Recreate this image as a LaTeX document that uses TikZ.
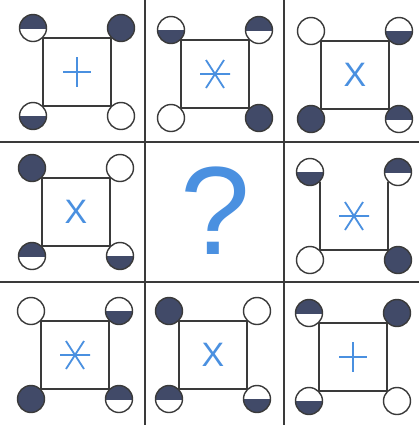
\documentclass[tikz,border=0pt]{standalone}
\usepackage{fontspec}
\setmainfont{Liberation Sans}
\definecolor{dk}{HTML}{414A68}
\definecolor{ln}{HTML}{3A3A3A}
\definecolor{bl}{HTML}{4A90E0}
\tikzset{
  gridline/.style={draw=ln,line width=1.8bp},
  sq/.style={draw=ln,line width=1.2bp},
  ring/.style={draw=ln,line width=1.4bp},
  sy/.style={draw=bl,line width=1.8bp},
  xsymb/.style={text=bl,inner sep=0pt,font=\fontsize{34}{34}\selectfont},
}
\newcommand\R{13.5}
% x, y, type (e empty, f full, t top dark, b bottom dark)
\newcommand\puzdot[3]{%
  \ifx#3f\fill[dk] (#1,#2) circle (\R);\fi
  \ifx#3t\begin{scope}\clip (#1-15,#2-15) rectangle (#1+15,#2);\fill[dk] (#1,#2) circle (\R);\end{scope}\fi
  \ifx#3b\begin{scope}\clip (#1-15,#2) rectangle (#1+15,#2+15);\fill[dk] (#1,#2) circle (\R);\end{scope}\fi
  \draw[ring] (#1,#2) circle (\R);}
\newcommand\plussym[2]{\draw[sy] (#1-14,#2) -- (#1+14,#2) (#1,#2-15) -- (#1,#2+15);}
\newcommand\astsym[2]{\draw[sy] (#1-15,#2) -- (#1+15,#2) (#1-9,#2-14) -- (#1+9,#2+14) (#1+9,#2-14) -- (#1-9,#2+14);}
\newcommand\xsym[2]{\node[xsymb] at (#1,#2) {X};}
% cx cy TL TR BL BR symbol top-edge(1/0)
\newcommand\cell[8]{%
  \ifnum#8=1
    \draw[sq] (#1-34,#2-34) rectangle (#1+34,#2+34);
  \else
    \draw[sq] (#1-34,#2-34) -- (#1-34,#2+34) -- (#1+34,#2+34) -- (#1+34,#2-34);
  \fi
  \puzdot{#1-44}{#2-44}{#3}%
  \puzdot{#1+44}{#2-44}{#4}%
  \puzdot{#1-44}{#2+44}{#5}%
  \puzdot{#1+44}{#2+44}{#6}%
  #7{#1}{#2}}
\begin{document}
\begin{tikzpicture}[x=1bp,y=-1bp]
\useasboundingbox (0,0) rectangle (419,425);
\fill[white] (0,0) rectangle (419,425);
\draw[gridline] (145,0) -- (145,425);
\draw[gridline] (284,0) -- (284,425);
\draw[gridline] (0,142) -- (419,142);
\draw[gridline] (0,282) -- (419,282);
\cell{77}{72}{t}{f}{b}{e}{\plussym}{1}
\cell{215}{74}{b}{t}{e}{f}{\astsym}{1}
\cell{355}{75}{e}{b}{f}{t}{\xsym}{1}
\cell{76}{212}{f}{e}{t}{b}{\xsym}{1}
\cell{354}{216}{b}{t}{e}{f}{\astsym}{0}
\cell{75}{355}{e}{b}{f}{t}{\astsym}{1}
\cell{213}{355}{f}{e}{t}{b}{\xsym}{1}
\cell{353}{357}{t}{f}{b}{e}{\plussym}{1}
\node[text=bl,inner sep=0pt,font=\fontsize{126}{126}\selectfont] (q) at (215,211) {?};
\end{tikzpicture}
\end{document}
